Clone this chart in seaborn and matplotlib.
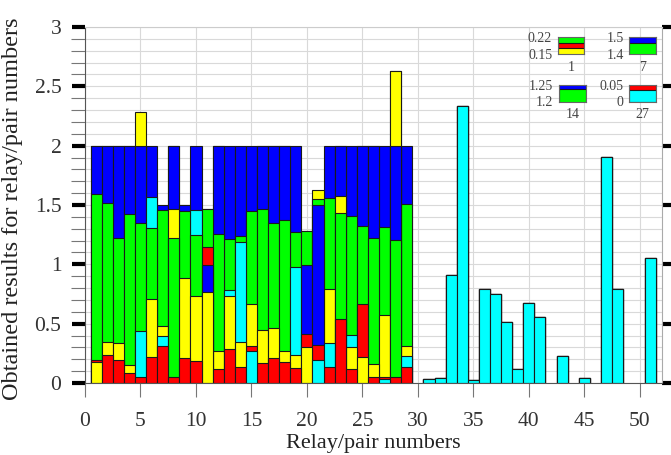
import numpy as np
import pandas as pd
import matplotlib
matplotlib.use("Agg")
import matplotlib.pyplot as plt
from matplotlib.ticker import FormatStrFormatter, MultipleLocator
import seaborn as sns

# ---------------- data ----------------
relays = list(range(1, 52))

# segment heights per colour (relays 1..51)
red = [0.022, 0.238, 0.19, 0.084, 0.05, 0.219, 0.314, 0.05, 0.21, 0.188,
       0.149, 0.12, 0.289, 0.135, 0.042, 0.168, 0.21, 0.177, 0.126, 0.112,
       0.124, 0.135, 0.538, 0.118, 0.448, 0.05, 0.015, 0.05, 0.135] + [0] * 22
yellow = [0.174, 0.104, 0.146, 0.067, 0.28, 0.487, 0.09, 0.246, 0.673, 0.541,
          0.771, 0.146, 0.44, 0.21, 0.352, 0.281, 0.25, 0.095, 0.112, 0.303,
          0.078, 0.454, 0.146, 0.185, 0.216, 0.113, 0.525, 0.63, 0.084] + [0] * 22
green = [1.394, 1.172, 0.889, 1.273, 0.911, 0.598, 0.98, 1.17, 0.569, 0.516,
         0.325, 0.99, 0.426, 0.046, 0.783, 1.02, 0.886, 1.099, 0.292, 0.289,
         0.051, 0.772, 0.892, 1.0, 0.659, 1.062, 0.743, 1.155, 1.2] + [0] * 22
cyan = [0, 0, 0, 0, 0.385, 0.266, 0.078, 0, 0, 0.213,
        0, 0, 0.056, 0.846, 0.272, 0, 0, 0, 0.743, 0,
        0.196, 0.201, 0, 0.104, 0, 0, 0.035, 0, 0.089, 0,
        0.034, 0.042, 0.908, 2.335, 0.022, 0.796, 0.749, 0.513, 0.118, 0.676,
        0.555, 0, 0.227, 0, 0.042, 0, 1.904, 0.79, 0, 0, 1.054]
blue = [0.41, 0.486, 0.775, 0.576, 0.654, 0.43, 0.038, 0.534, 0.048, 0.542,
        0.224, 0.744, 0.789, 0.7625, 0.551, 0.531, 0.654, 0.629, 0.727, 0.58,
        1.177, 0.438, 0.424, 0.593, 0.677, 0.775, 0.682, 0.795, 0.492] + [0] * 22

# stacking order (bottom -> top) of colour segments per relay
order = ["YRGB", "RYGB", "RYGB", "RYGB", "RCGBY", "RYGCB", "RCYGB", "RGYB", "RYGB", "RYGCB",
         "YBRG", "RYGB", "RYCGB", "RYCGB", "CRYGB", "RYGB", "RYGB", "RYGB", "RYCGB", "YRBG",
         "CRBGY", "RCYGB", "RGYB", "RYCGB", "YRGB", "RYGB", "CRYGB", "RGBY", "RCYGB"] + ["C"] * 22

# zoomed detail insets
inset_relays = [1, 7, 14, 27]
inset_lo = [0.15, 1.4, 1.2, 0.0]
inset_hi = [0.22, 1.5, 1.25, 0.05]

colors = {"R": "#ff0000", "Y": "#ffff00", "G": "#00ff00", "C": "#00ffff", "B": "#0000ff"}
series = {"R": red, "Y": yellow, "G": green, "C": cyan, "B": blue}

rows = []
for i, r in enumerate(relays):
    seq = order[i]
    tops = np.cumsum([series[c][i] for c in seq])
    for lvl in range(5):
        k = min(lvl, len(seq) - 1)
        rows.append({"relay": r, "level": lvl, "color": seq[k], "top": tops[k]})
df = pd.DataFrame(rows)

# ---------------- style ----------------
sns.set_theme(style="white")
plt.rcParams["font.family"] = ["Liberation Serif", "DejaVu Serif"]
plt.rcParams["axes.unicode_minus"] = False


def draw_stack(ax, data):
    for lvl in range(4, -1, -1):
        sub = data[data["level"] == lvl]
        sns.barplot(data=sub, x="relay", y="top", hue="color", palette=colors,
                    dodge=False, native_scale=True, width=1.0, saturation=1,
                    errorbar=None, legend=False, edgecolor="#1a1a1a",
                    linewidth=0.8, ax=ax)
    for p in ax.patches:
        if p.get_height() == 0:
            p.set_linewidth(0)


fig = plt.figure(figsize=(6.71, 4.55), dpi=100)
ax = fig.add_axes([85 / 671, 72 / 455, 577 / 671, 356 / 455])
draw_stack(ax, df)

ax.set_xlim(0, 52)
ax.set_ylim(0, 3)
ax.set_xticks(np.arange(0, 51, 5))
ax.yaxis.set_major_locator(MultipleLocator(0.5))
ax.yaxis.set_minor_locator(MultipleLocator(0.1))
ax.yaxis.set_major_formatter(FormatStrFormatter("%g"))
ax.set_axisbelow(True)
ax.grid(True, which="major", axis="x", color="#d9d9d9", lw=0.8)
ax.grid(True, which="both", axis="y", color="#d9d9d9", lw=0.8)
ax.tick_params(axis="x", which="major", direction="out", length=10, width=0.8,
               color="#777777", labelsize=15.5, pad=11, labelcolor="#333333",
               bottom=True)
ax.tick_params(axis="y", which="major", direction="out", length=9.5, width=3,
               color="black", left=True, right=True, labelsize=15.5, pad=7.5,
               labelcolor="#333333")
ax.tick_params(axis="y", which="minor", direction="out", length=10, width=0.8,
               color="#777777", left=True, right=False)
for s, c in [("left", "#555555"), ("bottom", "#555555"), ("right", "#aaaaaa"), ("top", "#cccccc")]:
    ax.spines[s].set_color(c)
    ax.spines[s].set_linewidth(0.8)
    ax.spines[s].set_visible(True)

ax.set_xlabel("Relay/pair numbers", fontsize=16, color="#222222")
ax.xaxis.set_label_coords(0.5, -0.142)
ax.set_ylabel("Obtained results for relay/pair numbers", fontsize=17.5, color="#222222")
ax.yaxis.set_label_coords(-0.1075, 0.49)

# ---------------- insets ----------------
inset_pos = [(557.7, 36.7), (629.3, 36.7), (559.0, 84.5), (629.3, 84.5)]
for (px, py), r, lo, hi in zip(inset_pos, inset_relays, inset_lo, inset_hi):
    iax = fig.add_axes([px / 671, 1 - (py + 17) / 455, 26.7 / 671, 17 / 455])
    draw_stack(iax, df[df["relay"] == r])
    iax.set_xlim(r - 0.5, r + 0.5)
    iax.set_ylim(lo, hi)
    iax.set_yticks([lo, hi])
    iax.yaxis.set_major_formatter(FormatStrFormatter("%g"))
    iax.set_xticks([])
    iax.set_xlabel(str(r), fontsize=10, labelpad=5, color="#444444")
    iax.set_ylabel("")
    iax.tick_params(axis="y", length=0, labelsize=10, pad=4, labelcolor="#444444")
    iax.set_facecolor("none")
    iax.grid(False)
    for s in iax.spines.values():
        s.set_color("#666666")
        s.set_linewidth(0.8)

fig.savefig("out.png", dpi=100)
